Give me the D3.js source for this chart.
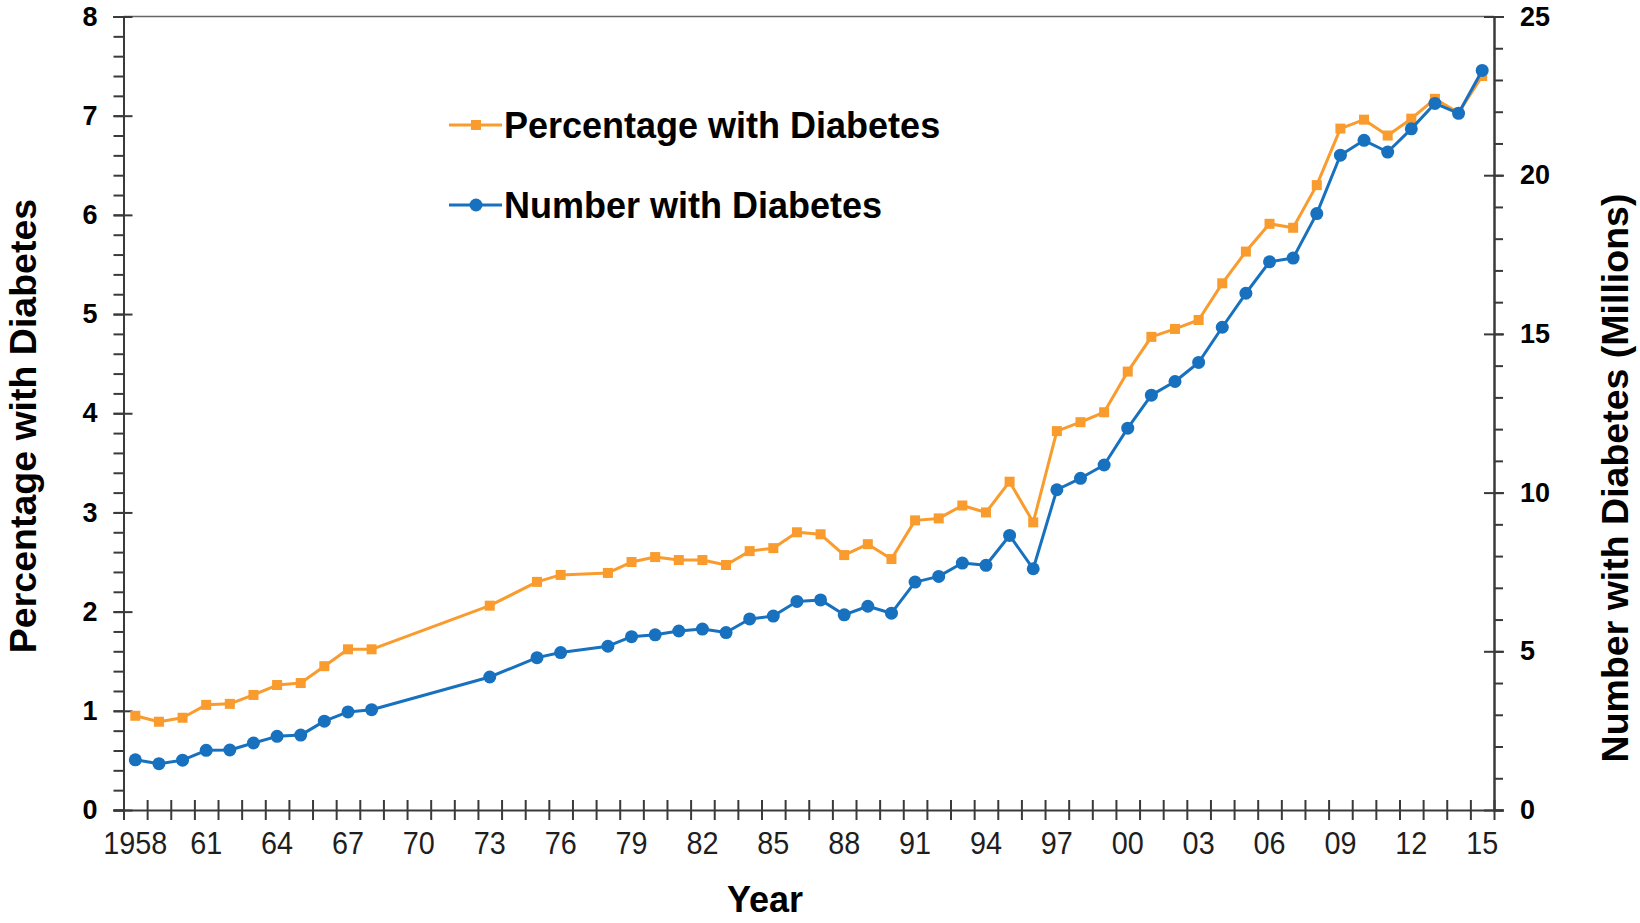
<!DOCTYPE html>
<html lang="en">
<head>
  <meta charset="UTF-8">
  <title>Diabetes in the US, 1958-2015</title>
  <script src="https://d3js.org/d3.v7.min.js"></script>
  <style>
    body {
      margin: 0;
      padding: 0;
      background: #fff;
      font-family: 'Liberation Sans', Arial, sans-serif;
    }
    .axis path { stroke: #3a3a3a; stroke-width: 2px; }
    .axis line { stroke: #3a3a3a; stroke-width: 2px; }
    .ylab text { font-size: 27px; font-weight: bold; fill: #000; }
    .xlab text {
      font-size: 32px; fill: #1e1e1e;
      transform: scaleX(0.9); transform-box: fill-box; transform-origin: center;
    }
    .title { font-weight: bold; fill: #000; }
    .line { fill: none; stroke-width: 3px; stroke-linejoin: round; }
  </style>
</head>
<body>
  <svg id="chart" width="1640" height="923"></svg>

  <script>
    // survey years that have a value (gaps 1969-72, 1974, 1977)
    const years = [1958, 1959, 1960, 1961, 1962, 1963, 1964, 1965, 1966, 1967, 1968,
      1973, 1975, 1976, 1978, 1979, 1980, 1981, 1982, 1983, 1984, 1985, 1986, 1987,
      1988, 1989, 1990, 1991, 1992, 1993, 1994, 1995, 1996, 1997, 1998, 1999, 2000,
      2001, 2002, 2003, 2004, 2005, 2006, 2007, 2008, 2009, 2010, 2011, 2012, 2013,
      2014, 2015];

    // percent of population with diagnosed diabetes (left axis)
    const percentage = [0.95, 0.89, 0.93, 1.06, 1.07, 1.16, 1.26, 1.28, 1.45, 1.62, 1.62,
      2.06, 2.30, 2.37, 2.39, 2.50, 2.55, 2.52, 2.52, 2.47, 2.61, 2.64, 2.80, 2.78,
      2.57, 2.68, 2.53, 2.92, 2.94, 3.07, 3.00, 3.31, 2.90, 3.82, 3.91, 4.01, 4.42,
      4.77, 4.85, 4.94, 5.31, 5.63, 5.91, 5.87, 6.30, 6.87, 6.96, 6.80, 6.97, 7.17,
      7.03, 7.40];

    // number with diagnosed diabetes, millions (right axis)
    const number = [1.58, 1.46, 1.57, 1.88, 1.89, 2.11, 2.32, 2.36, 2.80, 3.09, 3.16,
      4.19, 4.80, 4.96, 5.16, 5.46, 5.52, 5.64, 5.70, 5.59, 6.02, 6.11, 6.57, 6.62,
      6.15, 6.42, 6.20, 7.18, 7.36, 7.78, 7.71, 8.65, 7.60, 10.09, 10.45, 10.87, 12.03,
      13.07, 13.50, 14.10, 15.21, 16.28, 17.27, 17.39, 18.79, 20.63, 21.10, 20.73, 21.46,
      22.26, 21.95, 23.30];

    const firstYear = 1958, lastYear = 2015;
    const xLabelYears = [1958, 1961, 1964, 1967, 1970, 1973, 1976, 1979, 1982, 1985,
      1988, 1991, 1994, 1997, 2000, 2003, 2006, 2009, 2012, 2015];
    const leftTicks = [0, 1, 2, 3, 4, 5, 6, 7, 8];
    const rightTicks = [0, 5, 10, 15, 20, 25];

    const orange = "#F99B2D", blue = "#1771BE";

    const plot = { left: 123.5, right: 1494, top: 16.5, bottom: 810 };
    const svg = d3.select("#chart");

    const categories = d3.range(firstYear, lastYear + 1);
    const x = d3.scaleBand().domain(categories).range([plot.left, plot.right]).padding(0);
    const xEdge = d3.scaleLinear()
      .domain([firstYear - 0.5, lastYear + 0.5])
      .range([plot.left, plot.right]);
    const yL = d3.scaleLinear().domain([0, 8]).range([plot.bottom, plot.top]);
    const yR = d3.scaleLinear().domain([0, 25]).range([plot.bottom, plot.top]);
    const cx = yr => x(yr) + x.bandwidth() / 2;

    // top border of plot area
    svg.append("line")
      .attr("x1", plot.left).attr("x2", plot.right)
      .attr("y1", plot.top).attr("y2", plot.top)
      .attr("stroke", "#666").attr("stroke-width", 1.5);

    // left axis: minor ticks outside, majors crossing
    svg.append("g").attr("class", "axis")
      .attr("transform", `translate(${plot.left},0)`)
      .call(d3.axisLeft(yL).tickValues(d3.range(0, 8.001, 0.2)).tickSize(10).tickFormat(""));
    svg.append("g").attr("class", "axis")
      .attr("transform", `translate(${plot.left},0)`)
      .call(d3.axisLeft(yL).tickValues(leftTicks).tickSize(10).tickFormat(""))
      .call(g => g.selectAll(".tick line").attr("x1", 9));
    svg.append("g").attr("class", "ylab")
      .attr("transform", `translate(${plot.left},0)`)
      .call(d3.axisLeft(yL).tickValues(leftTicks).tickSize(0).tickPadding(26))
      .call(g => g.select(".domain").remove());

    // right axis
    svg.append("g").attr("class", "axis")
      .attr("transform", `translate(${plot.right},0)`)
      .call(d3.axisRight(yR).tickValues(d3.range(0, 25.001, 1)).tickSize(9).tickFormat(""));
    svg.append("g").attr("class", "axis")
      .attr("transform", `translate(${plot.right},0)`)
      .call(d3.axisRight(yR).tickValues(rightTicks).tickSize(10).tickFormat(""))
      .call(g => g.selectAll(".tick line").attr("x1", -10));
    svg.append("g").attr("class", "ylab")
      .attr("transform", `translate(${plot.right},0)`)
      .call(d3.axisRight(yR).tickValues(rightTicks).tickSize(0).tickPadding(26))
      .call(g => g.select(".domain").remove());

    // x axis: ticks between categories, crossing the line
    svg.append("g").attr("class", "axis")
      .attr("transform", `translate(0,${plot.bottom})`)
      .call(d3.axisBottom(xEdge)
        .tickValues(d3.range(firstYear - 0.5, lastYear + 1, 1))
        .tickSize(10).tickSizeOuter(0).tickFormat(""))
      .call(g => g.selectAll(".tick line").attr("y1", -10));
    svg.append("g").attr("class", "xlab")
      .attr("transform", `translate(0,${plot.bottom})`)
      .call(d3.axisBottom(x)
        .tickValues(xLabelYears)
        .tickSize(0).tickPadding(21)
        .tickFormat(d => d === firstYear ? String(d) : String(d).slice(2)))
      .call(g => g.select(".domain").remove());

    // series
    const pctData = years.map((yr, i) => ({ year: yr, v: percentage[i] }));
    const numData = years.map((yr, i) => ({ year: yr, v: number[i] }));

    svg.append("path").datum(pctData)
      .attr("class", "line").attr("stroke", orange)
      .attr("d", d3.line().x(d => cx(d.year)).y(d => yL(d.v)));
    svg.selectAll(".sq").data(pctData).enter().append("rect")
      .attr("class", "sq")
      .attr("x", d => cx(d.year) - 5).attr("y", d => yL(d.v) - 5)
      .attr("width", 10).attr("height", 10).attr("fill", orange);

    svg.append("path").datum(numData)
      .attr("class", "line").attr("stroke", blue)
      .attr("d", d3.line().x(d => cx(d.year)).y(d => yR(d.v)));
    svg.selectAll(".dot").data(numData).enter().append("circle")
      .attr("class", "dot")
      .attr("cx", d => cx(d.year)).attr("cy", d => yR(d.v))
      .attr("r", 6.5).attr("fill", blue);

    // legend
    const legendItems = [
      { name: "Percentage with Diabetes", color: orange, shape: "square", y: 125 },
      { name: "Number with Diabetes", color: blue, shape: "circle", y: 205 }
    ];
    legendItems.forEach(item => {
      const g = svg.append("g").attr("transform", `translate(449,${item.y})`);
      g.append("line").attr("x1", 0).attr("x2", 53)
        .attr("stroke", item.color).attr("stroke-width", 3);
      if (item.shape === "square") {
        g.append("rect").attr("x", 22).attr("y", -5).attr("width", 10).attr("height", 10)
          .attr("fill", item.color);
      } else {
        g.append("circle").attr("cx", 27).attr("r", 6.5).attr("fill", item.color);
      }
      g.append("text").attr("class", "title")
        .attr("x", 55).attr("y", 12.5)
        .style("font-size", "36px")
        .text(item.name);
    });

    // axis titles
    svg.append("text").attr("class", "title")
      .attr("x", 765).attr("y", 912)
      .attr("text-anchor", "middle").style("font-size", "36px")
      .text("Year");
    svg.append("text").attr("class", "title")
      .attr("transform", "translate(36,426) rotate(-90)")
      .attr("text-anchor", "middle").style("font-size", "37.5px")
      .text("Percentage with Diabetes");
    svg.append("text").attr("class", "title")
      .attr("transform", "translate(1628,478) rotate(-90)")
      .attr("text-anchor", "middle").style("font-size", "37.5px")
      .text("Number with Diabetes (Millions)");
  </script>
</body>
</html>
